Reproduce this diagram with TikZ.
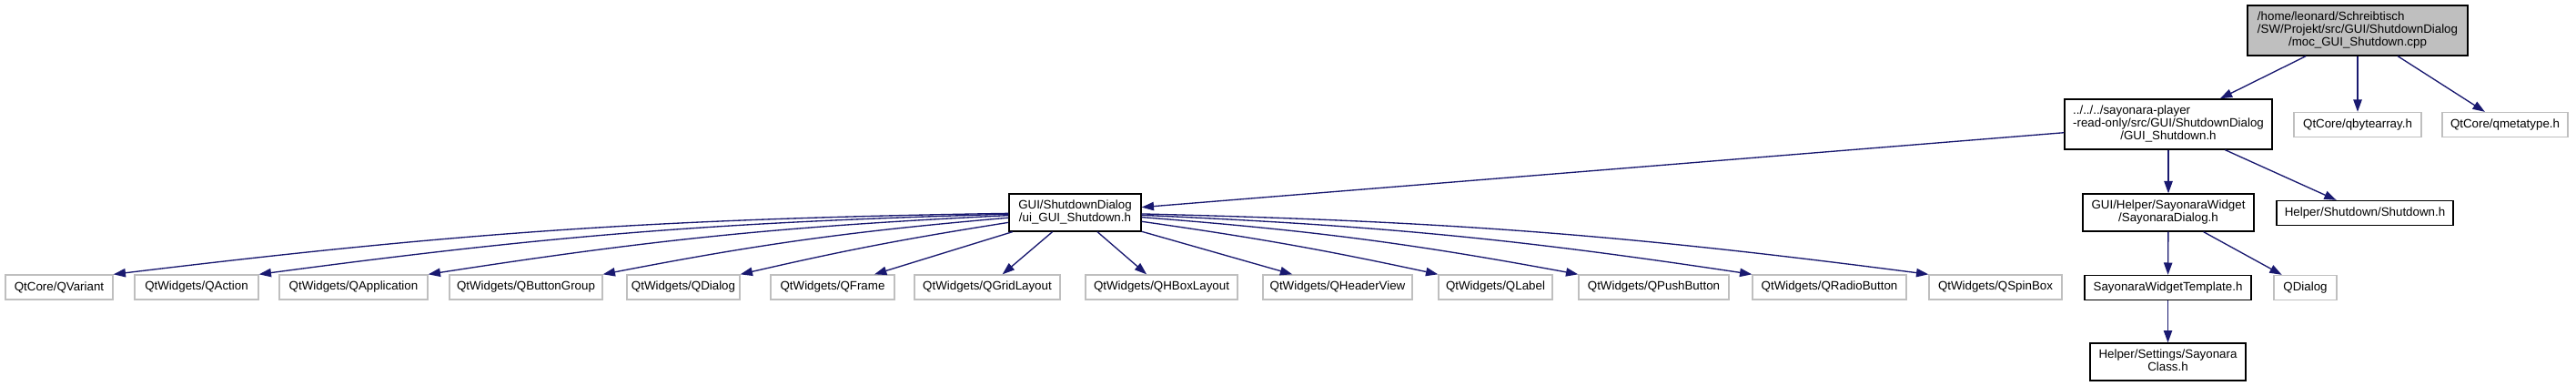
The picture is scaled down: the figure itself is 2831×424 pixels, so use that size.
\documentclass[tikz,border=0pt]{standalone}
\usepackage{fontspec}
\setmainfont{Liberation Sans}
\usetikzlibrary{arrows.meta}
\definecolor{edgeblue}{HTML}{191970}
\definecolor{greyseventyfive}{HTML}{BFBFBF}
\newcommand{\dxl}[1]{\begin{tabular}{@{}l@{}}#1\end{tabular}}
\newcommand{\dxc}[1]{\multicolumn{1}{@{}c@{}}{#1}}
\begin{document}
\begin{tikzpicture}[x=0.75pt,y=-0.75pt,
  every node/.style={font=\fontsize{10}{10.5}\selectfont, inner sep=0pt, align=center},
  docnode/.style={draw=black, line width=1pt, fill=white},
  extnode/.style={draw=greyseventyfive, line width=1pt, fill=white},
  sz/.style 2 args={minimum width=#1*0.75pt, minimum height=#2*0.75pt},
  dxedge/.style={draw=edgeblue, line width=1pt, -{Triangle[length=10pt,width=7pt]}}
]
\useasboundingbox[fill=white] (0,0) rectangle (2831,424);

% rank 0
\node[docnode, fill=greyseventyfive, sz={242}{55}] (root) at (2591,33.5)
  {\dxl{/home/leonard/Schreibtisch\\/SW/Projekt/src/GUI/ShutdownDialog\\\dxc{/moc\_GUI\_Shutdown.cpp}}};
% rank 1
\node[docnode, sz={228}{55}] (gs) at (2383,136.5)
  {\dxl{../../../sayonara-player\\-read-only/src/GUI/ShutdownDialog\\\dxc{/GUI\_Shutdown.h}}};
\node[extnode, sz={140}{27}] (qba) at (2591,137) {QtCore/qbytearray.h};
\node[extnode, sz={138}{27}] (qmt) at (2753,137) {QtCore/qmetatype.h};
% rank 2
\node[docnode, sz={145}{41}] (ui) at (1181.5,233.5)
  {\dxl{GUI/ShutdownDialog\\\dxc{/ui\_GUI\_Shutdown.h}}};
\node[docnode, sz={188}{41}] (sd) at (2383,233.5)
  {\dxl{GUI/Helper/SayonaraWidget\\\dxc{/SayonaraDialog.h}}};
\node[docnode, sz={194}{27}] (sh) at (2599,234) {Helper/Shutdown/Shutdown.h};
% rank 3
\node[extnode, sz={118}{27}] (qvar) at (65,315.5) {QtCore/QVariant};
\node[extnode, sz={136}{27}] (qact) at (216,315.5) {QtWidgets/QAction};
\node[extnode, sz={163}{27}] (qapp) at (388.5,315.5) {QtWidgets/QApplication};
\node[extnode, sz={168}{27}] (qbg) at (578,315.5) {QtWidgets/QButtonGroup};
\node[extnode, sz={124}{27}] (qdlg) at (751,315.5) {QtWidgets/QDialog};
\node[extnode, sz={136}{27}] (qfr) at (915,315.5) {QtWidgets/QFrame};
\node[extnode, sz={160}{27}] (qgl) at (1085,315.5) {QtWidgets/QGridLayout};
\node[extnode, sz={167}{27}] (qhbl) at (1276.5,315.5) {QtWidgets/QHBoxLayout};
\node[extnode, sz={164}{27}] (qhv) at (1470,315.5) {QtWidgets/QHeaderView};
\node[extnode, sz={125}{27}] (qlab) at (1643.5,315.5) {QtWidgets/QLabel};
\node[extnode, sz={165}{27}] (qpb) at (1817.5,315.5) {QtWidgets/QPushButton};
\node[extnode, sz={169}{27}] (qrb) at (2010.5,315.5) {QtWidgets/QRadioButton};
\node[extnode, sz={146}{27}] (qsb) at (2193,315.5) {QtWidgets/QSpinBox};
\node[docnode, sz={183}{27}] (swt) at (2382.5,316) {SayonaraWidgetTemplate.h};
\node[extnode, sz={69}{27}] (qd2) at (2533.5,316) {QDialog};
% rank 4
\node[docnode, sz={171}{41}] (sc) at (2382.5,397.5)
  {\dxl{Helper/Settings/Sayonara\\\dxc{Class.h}}};

% edges
\draw[dxedge] (root) -- (gs);
\draw[dxedge] (root) -- (qba);
\draw[dxedge] (root) -- (qmt);
\draw[dxedge] (gs) -- (ui);
\draw[dxedge] (gs) -- (sd);
\draw[dxedge] (gs) -- (sh);
\draw[dxedge] (ui) to[bend right=3] (qvar.north east);
\draw[dxedge] (ui) to[bend right=3] (qact.north east);
\draw[dxedge] (ui) to[bend right=3] (qapp.north east);
\draw[dxedge] (ui) to[bend right=3] (qbg.north east);
\draw[dxedge] (ui) to[bend right=2] (qdlg.north east);
\draw[dxedge] (ui) -- (qfr);
\draw[dxedge] (ui) -- (qgl);
\draw[dxedge] (ui) -- (qhbl);
\draw[dxedge] (ui) -- (qhv);
\draw[dxedge] (ui) to[bend left=2] (qlab.north west);
\draw[dxedge] (ui) to[bend left=3] (qpb.north west);
\draw[dxedge] (ui) to[bend left=3] (qrb.north west);
\draw[dxedge] (ui) to[bend left=3] (qsb.north west);
\draw[dxedge] (sd) -- (swt);
\draw[dxedge] (sd) -- (qd2);
\draw[dxedge] (swt) -- (sc);
\end{tikzpicture}
\end{document}
